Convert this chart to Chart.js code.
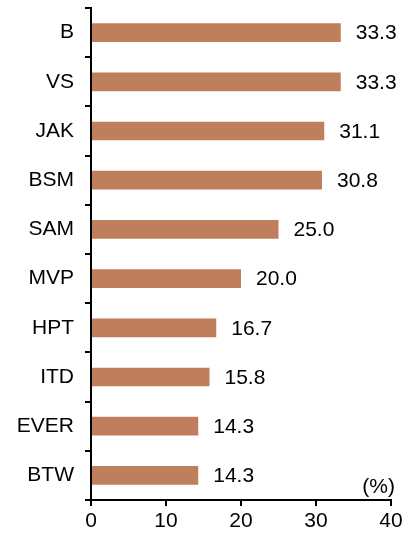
<!DOCTYPE html>
<html>
<head>
<meta charset="utf-8">
<script src="https://cdn.jsdelivr.net/npm/chart.js@4/dist/chart.umd.min.js"></script>
<style>
    html, body { margin: 0; padding: 0; background: #fff; }
    #wrap { width: 412px; height: 537px; position: relative; }
</style>
</head>
<body>
<div id="wrap"><canvas id="barChart"></canvas></div>
<script>
const categories = ['B', 'VS', 'JAK', 'BSM', 'SAM', 'MVP', 'HPT', 'ITD', 'EVER', 'BTW'];
const shares = [33.3, 33.3, 31.1, 30.8, 25.0, 20.0, 16.7, 15.8, 14.3, 14.3];
const xTicks = [0, 10, 20, 30, 40];
const unitLabel = '(%)';

const FONT = 'Arial, "Liberation Sans", sans-serif';
const FONT_SIZE = 21;

// value labels next to the bar ends, plus the unit label
const valueLabels = {
    id: 'valueLabels',
    afterDatasetsDraw(chart) {
        const ctx = chart.ctx;
        const meta = chart.getDatasetMeta(0);
        ctx.save();
        ctx.font = FONT_SIZE + 'px ' + FONT;
        ctx.fillStyle = '#000';
        ctx.textBaseline = 'middle';
        ctx.textAlign = 'left';
        meta.data.forEach((bar, i) => {
            ctx.fillText(shares[i].toFixed(1), bar.x + 15, bar.y + 1);
        });
        ctx.textAlign = 'right';
        ctx.textBaseline = 'alphabetic';
        ctx.fillText(unitLabel, chart.chartArea.right + 4, chart.chartArea.bottom - 7);
        ctx.restore();
    }
};

const ctx = document.getElementById('barChart').getContext('2d');
new Chart(ctx, {
    type: 'bar',
    data: {
        labels: categories,
        datasets: [{
            data: shares,
            backgroundColor: '#C07F5C',
            borderWidth: 0,
            barPercentage: 0.38,
            categoryPercentage: 1.0
        }]
    },
    options: {
        indexAxis: 'y',
        responsive: true,
        maintainAspectRatio: false,
        animation: false,
        layout: { padding: { top: 8, right: 21, left: 0, bottom: 0 } },
        plugins: {
            legend: { display: false },
            tooltip: { enabled: false }
        },
        scales: {
            y: {
                afterFit: (scale) => {
                    scale.width = 91;
                    scale.paddingTop = 0;
                    scale.paddingBottom = 0;
                },
                grid: {
                    offset: true,
                    drawOnChartArea: false,
                    tickLength: 6,
                    color: '#000',
                    lineWidth: 2
                },
                border: { color: '#000', width: 2 },
                ticks: {
                    color: '#000',
                    font: { family: FONT, size: FONT_SIZE },
                    padding: 11
                }
            },
            x: {
                min: 0,
                max: 40,
                afterFit: (scale) => {
                    scale.height = 37;
                    scale.paddingLeft = 0;
                    scale.paddingRight = 0;
                },
                afterBuildTicks: (scale) => { scale.ticks = xTicks.map(v => ({ value: v })); },
                grid: {
                    drawOnChartArea: false,
                    tickLength: 6,
                    color: '#000',
                    lineWidth: 2
                },
                border: { color: '#000', width: 2 },
                ticks: {
                    color: '#000',
                    font: { family: FONT, size: FONT_SIZE },
                    padding: 3
                }
            }
        }
    },
    plugins: [valueLabels]
});
</script>
</body>
</html>
